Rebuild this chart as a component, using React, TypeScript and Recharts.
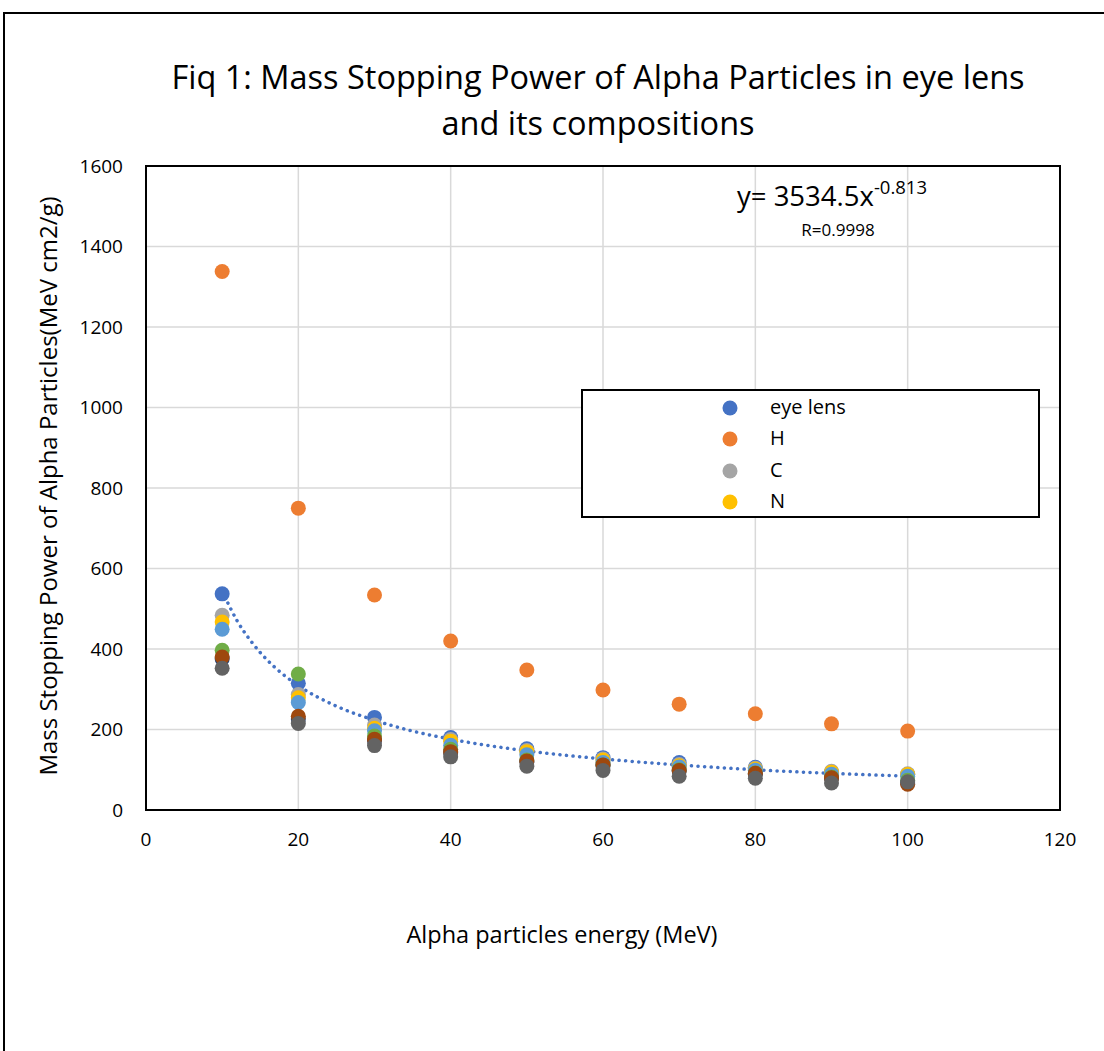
import {
  CartesianGrid,
  ComposedChart,
  Legend,
  Line,
  ReferenceArea,
  Scatter,
  XAxis,
  YAxis,
} from 'recharts'

const energies = [10, 20, 30, 40, 50, 60, 70, 80, 90, 100]

const eyeLens = [537, 315, 230, 180, 152, 130, 118, 106, 94, 88]
const hydrogen = [1338, 750, 534, 420, 348, 298, 263, 239, 214, 196]
const carbon = [484, 287, 211, 175, 148, 127, 113, 104, 96, 90]
const nitrogen = [467, 279, 203, 171, 145, 124, 110, 102, 94, 88]
const oxygen = [449, 267, 197, 161, 137, 118, 107, 99, 89, 84]
const sodium = [397, 338, 184, 151, 124, 112, 100, 92, 82, 74]
const phosphorus = [376, 226, 172, 142, 120, 110, 97, 89, 79, 67]
const sulfur = [380, 233, 176, 145, 122, 112, 98, 91, 80, 64]
const potassium = [352, 215, 160, 132, 109, 98, 84, 79, 67, 70]

// trendline values
const trendX = [10, 12, 14, 16, 18, 20, 25, 30, 35, 40, 50, 60, 70, 80, 90, 100]
const trendY = [544, 469, 414, 371, 337, 309, 258, 223, 196, 176, 147, 127, 112, 100, 91, 84]

const xTicks = [0, 20, 40, 60, 80, 100, 120]
const yTicks = [0, 200, 400, 600, 800, 1000, 1200, 1400, 1600]

const seriesNames = ['eye lens', 'H', 'C', 'N', 'O', 'Na', 'P', 'S', 'K']
const seriesColors = [
  '#4472C4',
  '#ED7D31',
  '#A5A5A5',
  '#FFC000',
  '#5B9BD5',
  '#70AD47',
  '#264478',
  '#9E480E',
  '#636363',
]
const seriesValues = [
  eyeLens,
  hydrogen,
  carbon,
  nitrogen,
  oxygen,
  sodium,
  phosphorus,
  sulfur,
  potassium,
]
const legendCount = 4

const font = '"Open Sans", Lato, sans-serif'

const toPoints = (vals: number[]) =>
  energies.map((x, i) => ({ x, y: vals[i] }))
const trendData = trendX.map((x, i) => ({ x, y: trendY[i] }))

function LegendBox() {
  return (
    <div
      style={{
        boxSizing: 'border-box',
        width: 459,
        height: 129,
        border: '2px solid #000',
        background: '#fff',
        paddingTop: 2,
      }}
    >
      {seriesNames.slice(0, legendCount).map((name, i) => (
        <div
          key={name}
          style={{
            position: 'relative',
            height: 31.3,
            fontFamily: font,
            fontSize: 20,
            color: '#000',
          }}
        >
          <svg
            width={18}
            height={18}
            style={{ position: 'absolute', left: 138, top: 6 }}
          >
            <circle cx={9} cy={9} r={7.5} fill={seriesColors[i]} />
          </svg>
          <span
            style={{ position: 'absolute', left: 187, top: 0, lineHeight: '28px' }}
          >
            {name}
          </span>
        </div>
      ))}
    </div>
  )
}

export default function App() {
  return (
    <div
      style={{
        position: 'absolute',
        left: 0,
        top: 0,
        width: 1104,
        height: 1051,
        overflow: 'hidden',
        background: '#fff',
        fontFamily: font,
      }}
    >
      <div
        style={{
          position: 'absolute',
          left: 3,
          top: 12,
          width: 1101,
          height: 1039,
          boxSizing: 'border-box',
          borderLeft: '2px solid #000',
          borderTop: '2px solid #000',
        }}
      />
      <div
        style={{
          position: 'absolute',
          left: 100,
          top: 54,
          width: 996,
          textAlign: 'center',
          fontSize: 32.5,
          lineHeight: '46px',
          color: '#000',
        }}
      >
        Fiq 1: Mass Stopping Power of Alpha Particles in eye lens
        <br />
        and its compositions
      </div>
      <div style={{ position: 'absolute', left: 0, top: 0 }}>
        <ComposedChart
          width={1104}
          height={1000}
          margin={{ top: 166, right: 44, bottom: 150, left: 86 }}
        >
          <CartesianGrid stroke='#d9d9d9' strokeWidth={1.5} />
          <XAxis
            type='number'
            dataKey='x'
            domain={[0, 120]}
            ticks={xTicks}
            height={40}
            axisLine={{ stroke: '#000', strokeWidth: 1.5 }}
            tickLine={false}
            tickMargin={17}
            tick={{ fill: '#000', fontSize: 19, fontFamily: font }}
            allowDataOverflow
          />
          <YAxis
            type='number'
            dataKey='y'
            domain={[0, 1600]}
            ticks={yTicks}
            width={60}
            axisLine={{ stroke: '#000', strokeWidth: 1.5 }}
            tickLine={false}
            tickMargin={17}
            tick={{ fill: '#000', fontSize: 19, fontFamily: font }}
            allowDataOverflow
          />
          <ReferenceArea
            x1={0}
            x2={120}
            y1={0}
            y2={1600}
            fill='none'
            stroke='#000'
            strokeWidth={2}
            ifOverflow='visible'
          />
          <Line
            data={trendData}
            dataKey='y'
            type='monotone'
            stroke='#4472C4'
            strokeWidth={3.5}
            strokeDasharray='0.1 6.5'
            strokeLinecap='round'
            dot={false}
            activeDot={false}
            legendType='none'
            isAnimationActive={false}
          />
          {seriesNames.map((name, i) => (
            <Scatter
              key={name}
              name={name}
              data={toPoints(seriesValues[i])}
              dataKey='y'
              fill={seriesColors[i]}
              isAnimationActive={false}
              shape={(p: { cx?: number; cy?: number }) => (
                <circle cx={p.cx} cy={p.cy} r={7.5} fill={seriesColors[i]} />
              )}
            />
          ))}
          <Legend
            layout='vertical'
            align='center'
            verticalAlign='middle'
            wrapperStyle={{ left: 581, top: 389, width: 459, height: 129 }}
            content={() => <LegendBox />}
          />
        </ComposedChart>
      </div>
      <div
        style={{
          position: 'absolute',
          left: 737,
          top: 178,
          fontSize: 27.5,
          lineHeight: '28px',
          color: '#000',
          whiteSpace: 'nowrap',
        }}
      >
        y= 3534.5x
        <sup style={{ fontSize: 18.5, verticalAlign: 12, lineHeight: '18px' }}>
          -0.813
        </sup>
      </div>
      <div
        style={{
          position: 'absolute',
          left: 838,
          top: 230,
          transform: 'translate(-50%, -50%)',
          fontSize: 17,
          lineHeight: '20px',
          color: '#000',
          whiteSpace: 'nowrap',
        }}
      >
        R=0.9998
      </div>
      <div
        style={{
          position: 'absolute',
          left: 47,
          top: 486,
          transform: 'translate(-50%, -50%) rotate(-90deg)',
          fontSize: 24,
          color: '#000',
          whiteSpace: 'nowrap',
        }}
      >
        Mass Stopping Power of Alpha Particles(MeV cm2/g)
      </div>
      <div
        style={{
          position: 'absolute',
          left: 562,
          top: 934,
          transform: 'translate(-50%, -50%)',
          fontSize: 23.5,
          color: '#000',
          whiteSpace: 'nowrap',
        }}
      >
        Alpha particles energy (MeV)
      </div>
    </div>
  )
}
